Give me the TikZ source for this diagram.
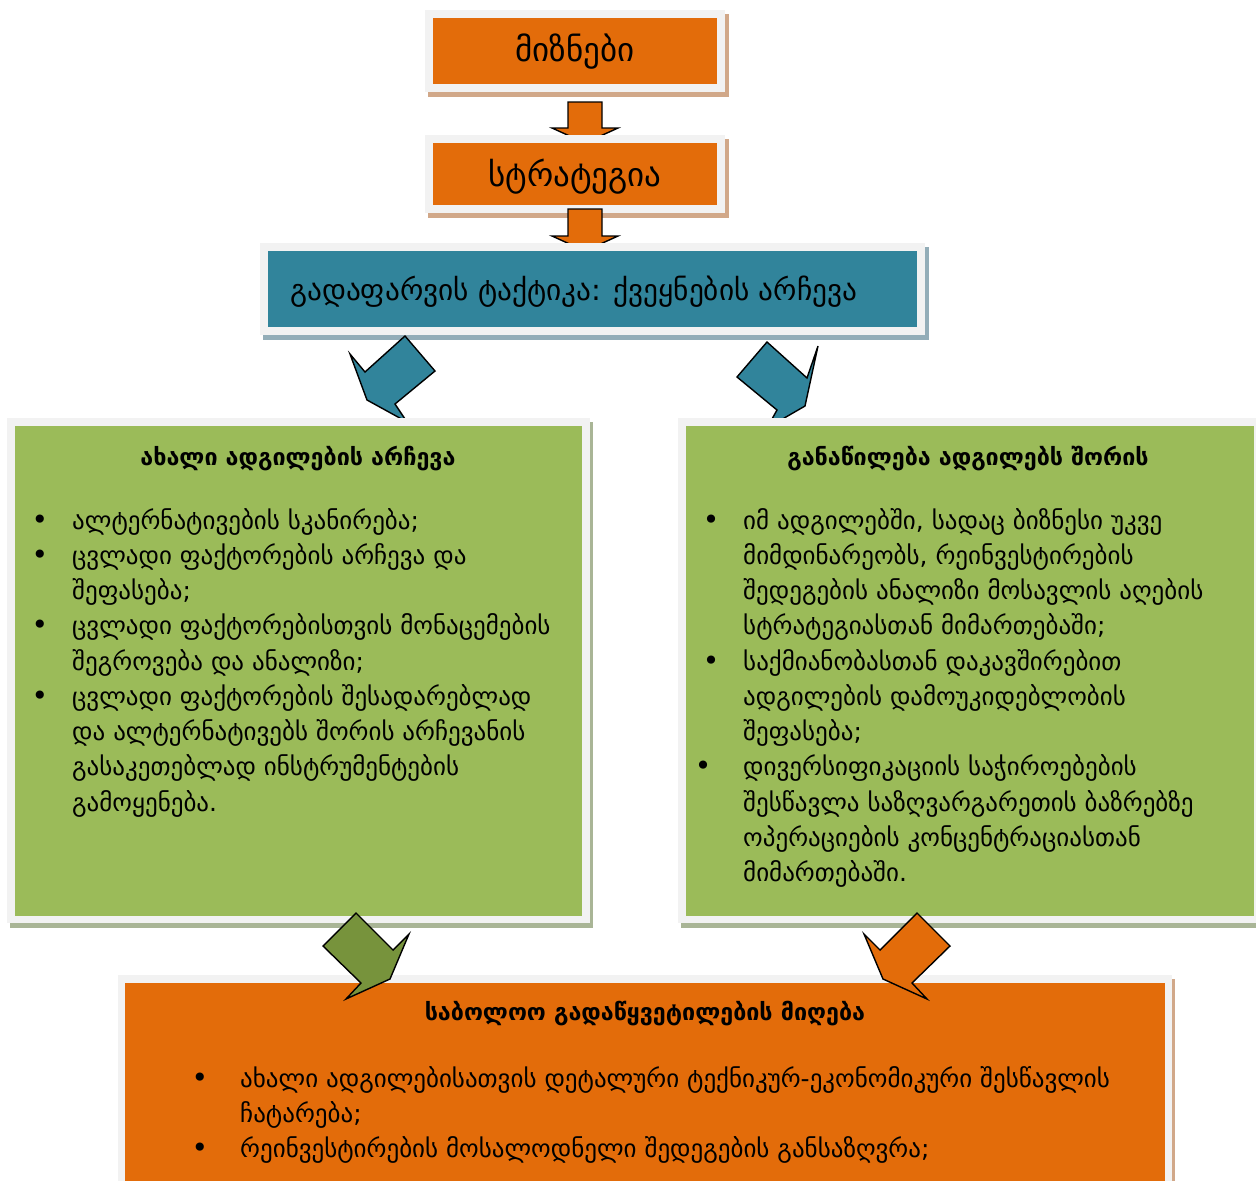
\documentclass[tikz,border=0pt]{standalone}
\usepackage{fontspec}
\setmainfont{DejaVu Sans}
\definecolor{orng}{HTML}{E36C0A}
\definecolor{tealbox}{HTML}{31849B}
\definecolor{grn}{HTML}{9BBB59}
\definecolor{dgrn}{HTML}{77933C}
\definecolor{frm}{HTML}{F2F2F2}
\definecolor{tanshd}{HTML}{D1A889}
\definecolor{tealshd}{HTML}{93ADB8}
\definecolor{grnshd}{HTML}{A9B596}
\begin{document}
\begin{tikzpicture}[x=1pt,y=-1pt,
  blockarrow/.style={draw=black, line width=1.4pt, line join=miter},
  txt/.style={anchor=base west, inner sep=0pt, font=\fontsize{25}{30}\selectfont},
  bul/.style={anchor=base, inner sep=0pt, font=\fontsize{28}{30}\selectfont},
  ttl/.style={anchor=base, inner sep=0pt, font=\fontsize{23.3}{28}\selectfont\bfseries},
  toptxt/.style={anchor=base, inner sep=0pt, font=\fontsize{33}{38}\selectfont},
  tealtxt/.style={anchor=base west, inner sep=0pt, font=\fontsize{29.3}{34}\selectfont}]
\useasboundingbox (0,0) rectangle (1256,1181);
\fill[white] (0,0) rectangle (1256,1181);
% box 1
\fill[tanshd] (428,14) rectangle (729,97);
\fill[frm] (425,10) rectangle (725,92);
\fill[orng] (433,18) rectangle (717,84);
\node[toptxt] (goal) at (575,61) {მიზნები};
% arrow 1
\draw[blockarrow, fill=orng] (568,102) -- (602,102) -- (602,128) -- (618,128) -- (585,143) -- (552,128) -- (568,128) -- cycle;
% box 2
\fill[tanshd] (428,139) rectangle (729,218);
\fill[frm] (425,135) rectangle (725,213);
\fill[orng] (433,143) rectangle (717,205);
\node[toptxt] (strat) at (575,186) {სტრატეგია};
% arrow 2
\draw[blockarrow, fill=orng] (568,209) -- (602,209) -- (602,236) -- (618,236) -- (585,251) -- (552,236) -- (568,236) -- cycle;
% teal box
\fill[tealshd] (263,247) rectangle (929,340);
\fill[frm] (260,243) rectangle (925,335);
\fill[tealbox] (268,251) rectangle (917,327);
\node[tealtxt] (tact) at (290,300) {გადაფარვის ტაქტიკა: ქვეყნების არჩევა};
% teal arrows
\draw[blockarrow, fill=tealbox] (405,336) -- (435,371) -- (395,404) -- (407,422) -- (367,400) -- (350,354) -- (365,372) -- cycle;
\draw[blockarrow, fill=tealbox] (767,342) -- (737,377) -- (777,410) -- (767,428) -- (805,406) -- (818,346) -- (807,378) -- cycle;
% left green box
\fill[grnshd] (10,422) rectangle (593,928);
\fill[frm] (7,418) rectangle (590,923);
\fill[grn] (15,426) rectangle (582,916);
% right green box
\fill[grnshd] (681,422) rectangle (1262,928);
\fill[frm] (678,418) rectangle (1262,923);
\fill[grn] (686,426) rectangle (1254,916);
% bottom orange box
\fill[tanshd] (121,979) rectangle (1175,1190);
\fill[frm] (118,975) rectangle (1172,1190);
\fill[orng] (125,983) rectangle (1165,1190);
% bottom arrows
\draw[blockarrow, fill=dgrn] (356,913) -- (393,950) -- (409,934) -- (390,979) -- (346,999) -- (361,983) -- (323,946) -- cycle;
\draw[blockarrow, fill=orng] (917,913) -- (880,950) -- (864,934) -- (883,979) -- (927,999) -- (912,983) -- (950,946) -- cycle;
% left texts
\node[ttl] (lt) at (298,465) {ახალი ადგილების არჩევა};
\node[bul] (lb1) at (40,529) {•};
\node[txt] (l1) at (72,529) {ალტერნატივების სკანირება;};
\node[bul] (lb2) at (40,564.25) {•};
\node[txt] (l2) at (72,564.25) {ცვლადი ფაქტორების არჩევა და};
\node[txt] (l3) at (72,599.5) {შეფასება;};
\node[bul] (lb3) at (40,634.75) {•};
\node[txt] (l4) at (72,634.75) {ცვლადი ფაქტორებისთვის მონაცემების};
\node[txt] (l5) at (72,670) {შეგროვება და ანალიზი;};
\node[bul] (lb4) at (40,705.25) {•};
\node[txt] (l6) at (72,705.25) {ცვლადი ფაქტორების შესადარებლად};
\node[txt] (l7) at (72,740.5) {და ალტერნატივებს შორის არჩევანის};
\node[txt] (l8) at (72,775.75) {გასაკეთებლად ინსტრუმენტების};
\node[txt] (l9) at (72,811) {გამოყენება.};
% right texts
\node[ttl] (rt) at (968,465) {განაწილება ადგილებს შორის};
\node[bul] (rb1) at (711,529) {•};
\node[txt] (r1) at (743,529) {იმ ადგილებში, სადაც ბიზნესი უკვე};
\node[txt] (r2) at (743,564.25) {მიმდინარეობს, რეინვესტირების};
\node[txt] (r3) at (743,599.5) {შედეგების ანალიზი მოსავლის აღების};
\node[txt] (r4) at (743,634.75) {სტრატეგიასთან მიმართებაში;};
\node[bul] (rb2) at (711,670) {•};
\node[txt] (r5) at (743,670) {საქმიანობასთან დაკავშირებით};
\node[txt] (r6) at (743,705.25) {ადგილების დამოუკიდებლობის};
\node[txt] (r7) at (743,740.5) {შეფასება;};
\node[bul] (rb3) at (703,775.75) {•};
\node[txt] (r8) at (743,775.75) {დივერსიფიკაციის საჭიროებების};
\node[txt] (r9) at (743,811) {შესწავლა საზღვარგარეთის ბაზრებზე};
\node[txt] (r10) at (743,846.25) {ოპერაციების კონცენტრაციასთან};
\node[txt] (r11) at (743,881.5) {მიმართებაში.};
% bottom texts
\node[ttl] (bt) at (645,1020) {საბოლოო გადაწყვეტილების მიღება};
\node[bul] (bb1) at (200,1087) {•};
\node[txt] (b1) at (240,1087) {ახალი ადგილებისათვის დეტალური ტექნიკურ-ეკონომიკური შესწავლის};
\node[txt] (b2) at (240,1122) {ჩატარება;};
\node[bul] (bb2) at (200,1157) {•};
\node[txt] (b3) at (240,1157) {რეინვესტირების მოსალოდნელი შედეგების განსაზღვრა;};
\end{tikzpicture}
\end{document}
